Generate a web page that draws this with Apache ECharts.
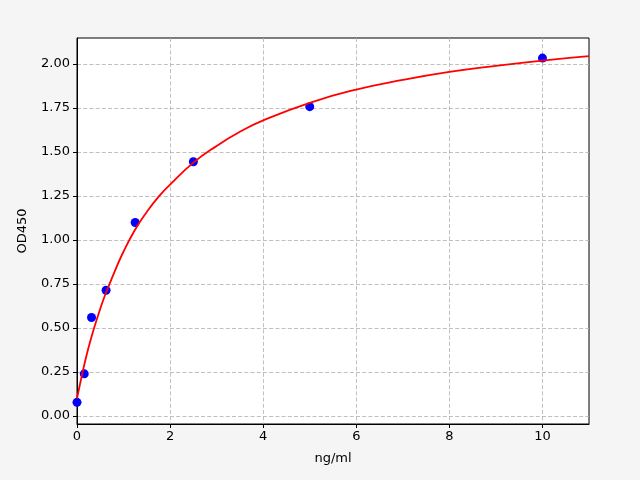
<!DOCTYPE html>
<html>
<head>
<meta charset="utf-8">
<script src="https://cdn.jsdelivr.net/npm/echarts@6/dist/echarts.min.js"></script>
<style>
    html, body { margin: 0; padding: 0; background: #f5f5f5; }
    #chart { width: 640px; height: 480px; }
</style>
</head>
<body>
<div id="chart"></div>
<script>
// measured standards (ng/ml, OD450)
var stdX = [0, 0.156, 0.312, 0.625, 1.25, 2.5, 5, 10];
var stdY = [0.078, 0.24, 0.56, 0.715, 1.10, 1.445, 1.758, 2.034];

// fitted curve
var curveX = [0, 0.1, 0.2, 0.3, 0.45, 0.6, 0.8, 1, 1.25, 1.5, 1.75, 2, 2.5, 3, 3.5, 4, 5, 6, 7, 8, 9, 10, 11];
var curveY = [0.10, 0.225, 0.34, 0.44, 0.57, 0.685, 0.815, 0.935, 1.06, 1.16, 1.245, 1.315, 1.44, 1.535, 1.615, 1.68, 1.78, 1.855, 1.91, 1.955, 1.99, 2.02, 2.045];

var xTicks = [0, 2, 4, 6, 8, 10];
var yTicks = [0, 0.25, 0.5, 0.75, 1.0, 1.25, 1.5, 1.75, 2.0];

var pts = [];
for (var i = 0; i < stdX.length; i++) {
    pts.push([stdX[i], stdY[i]]);
}
var line = [];
for (var j = 0; j < curveX.length; j++) {
    line.push([curveX[j], curveY[j]]);
}

var font = 'DejaVu Sans';
var split = {
    show: true,
    lineStyle: { color: '#b0b0b0', type: [4, 2.2], width: 0.8 }
};

var option = {
    animation: false,
    backgroundColor: '#f5f5f5',
    grid: {
        left: 77, right: 51, top: 38, bottom: 56,
        show: true,
        backgroundColor: '#ffffff',
        borderColor: '#000000',
        borderWidth: 1
    },
    xAxis: {
        type: 'value',
        min: 0,
        max: 11,
        name: 'ng/ml',
        nameLocation: 'middle',
        nameGap: 28,
        nameTextStyle: { fontFamily: font, fontSize: 13, color: '#000' },
        axisLine: { show: true, onZero: false, lineStyle: { color: '#000', width: 1 } },
        axisTick: { show: true, length: 4, customValues: xTicks, lineStyle: { color: '#000' } },
        axisLabel: { customValues: xTicks, fontFamily: font, fontSize: 13, color: '#000', margin: 6 },
        splitLine: split
    },
    yAxis: {
        type: 'value',
        min: -0.045,
        max: 2.148,
        name: 'OD450',
        nameLocation: 'middle',
        nameGap: 48,
        nameRotate: 90,
        nameTextStyle: { fontFamily: font, fontSize: 13, color: '#000' },
        axisLine: { show: true, onZero: false, lineStyle: { color: '#000', width: 1 } },
        axisTick: { show: true, length: 4, customValues: yTicks, lineStyle: { color: '#000' } },
        axisLabel: {
            customValues: yTicks,
            fontFamily: font, fontSize: 13, color: '#000', margin: 7,
            formatter: function (v) { return v.toFixed(2); }
        },
        splitLine: split
    },
    series: [
        {
            type: 'scatter',
            data: pts,
            symbol: 'circle',
            symbolSize: 9,
            itemStyle: { color: '#0000ff', opacity: 1 },
            z: 2
        },
        {
            type: 'line',
            data: line,
            smooth: 0.5,
            symbol: 'none',
            lineStyle: { color: '#ff0000', width: 1.8 },
            z: 3
        }
    ]
};

var chart = echarts.init(document.getElementById('chart'));
chart.setOption(option);
</script>
</body>
</html>
